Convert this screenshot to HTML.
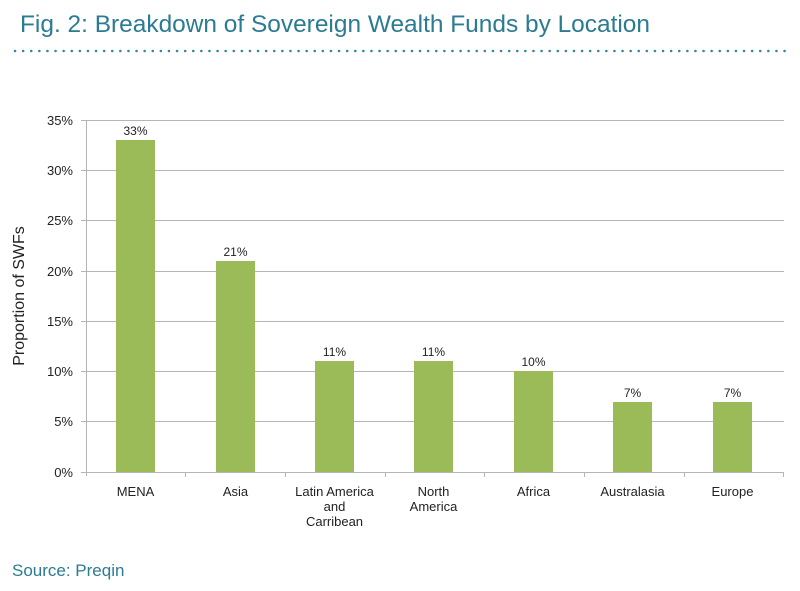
<!DOCTYPE html>
<html><head><style>body{margin:0;background:#fff}</style></head><body>
<svg width="800" height="586" xmlns="http://www.w3.org/2000/svg" font-family="Liberation Sans, sans-serif">
<text x="20" y="32" font-size="24" fill="#2b7b93" textLength="630" lengthAdjust="spacingAndGlyphs">Fig. 2: Breakdown of Sovereign Wealth Funds by Location</text>
<line x1="15" y1="51" x2="785" y2="51" stroke="#2b8aa6" stroke-width="2.5" stroke-dasharray="0.1 8" stroke-linecap="round"/>
<g stroke="#b5b5b5" stroke-width="1">
<line x1="86" y1="120.5" x2="784" y2="120.5"/>
<line x1="86" y1="170.5" x2="784" y2="170.5"/>
<line x1="86" y1="220.5" x2="784" y2="220.5"/>
<line x1="86" y1="271.5" x2="784" y2="271.5"/>
<line x1="86" y1="321.5" x2="784" y2="321.5"/>
<line x1="86" y1="371.5" x2="784" y2="371.5"/>
<line x1="86" y1="421.5" x2="784" y2="421.5"/>
<line x1="86" y1="472.5" x2="784" y2="472.5"/>
<line x1="86.5" y1="120" x2="86.5" y2="476"/>
<line x1="81" y1="120.5" x2="86" y2="120.5"/><line x1="81" y1="170.5" x2="86" y2="170.5"/><line x1="81" y1="220.5" x2="86" y2="220.5"/><line x1="81" y1="271.5" x2="86" y2="271.5"/><line x1="81" y1="321.5" x2="86" y2="321.5"/><line x1="81" y1="371.5" x2="86" y2="371.5"/><line x1="81" y1="421.5" x2="86" y2="421.5"/><line x1="81" y1="472.5" x2="86" y2="472.5"/>
<line x1="185.5" y1="472" x2="185.5" y2="477"/><line x1="285.5" y1="472" x2="285.5" y2="477"/><line x1="385.5" y1="472" x2="385.5" y2="477"/><line x1="484.5" y1="472" x2="484.5" y2="477"/><line x1="584.5" y1="472" x2="584.5" y2="477"/><line x1="684.5" y1="472" x2="684.5" y2="477"/><line x1="783.5" y1="472" x2="783.5" y2="477"/>
</g>
<g font-size="13" fill="#222" text-anchor="end">
<text x="73" y="125">35%</text><text x="73" y="175">30%</text><text x="73" y="225">25%</text><text x="73" y="276">20%</text><text x="73" y="326">15%</text><text x="73" y="376">10%</text><text x="73" y="426">5%</text><text x="73" y="477">0%</text>
</g>
<text transform="translate(24,296) rotate(-90)" text-anchor="middle" font-size="16" fill="#222">Proportion of SWFs</text>
<g fill="#9bbb59">
<rect x="116" y="140" width="39" height="332"/>
<rect x="216" y="261" width="39" height="211"/>
<rect x="315" y="361" width="39" height="111"/>
<rect x="414" y="361" width="39" height="111"/>
<rect x="514" y="371" width="39" height="101"/>
<rect x="613" y="402" width="39" height="70"/>
<rect x="713" y="402" width="39" height="70"/>
</g>
<g font-size="12" fill="#222" text-anchor="middle">
<text x="135.5" y="135">33%</text><text x="235.5" y="256">21%</text><text x="334.5" y="356">11%</text><text x="433.5" y="356">11%</text><text x="533.5" y="366">10%</text><text x="632.5" y="397">7%</text><text x="732.5" y="397">7%</text>
</g>
<g font-size="13" fill="#222" text-anchor="middle">
<text x="135.5" y="496">MENA</text><text x="235.5" y="496">Asia</text>
<text x="334.5" y="496">Latin America</text><text x="334.5" y="511">and</text><text x="334.5" y="526">Carribean</text>
<text x="433.5" y="496">North</text><text x="433.5" y="511">America</text>
<text x="533.5" y="496">Africa</text><text x="632.5" y="496">Australasia</text><text x="732.5" y="496">Europe</text>
</g>
<text x="12" y="576" font-size="17" fill="#2b7b93">Source: Preqin</text>
</svg>
</body></html>
